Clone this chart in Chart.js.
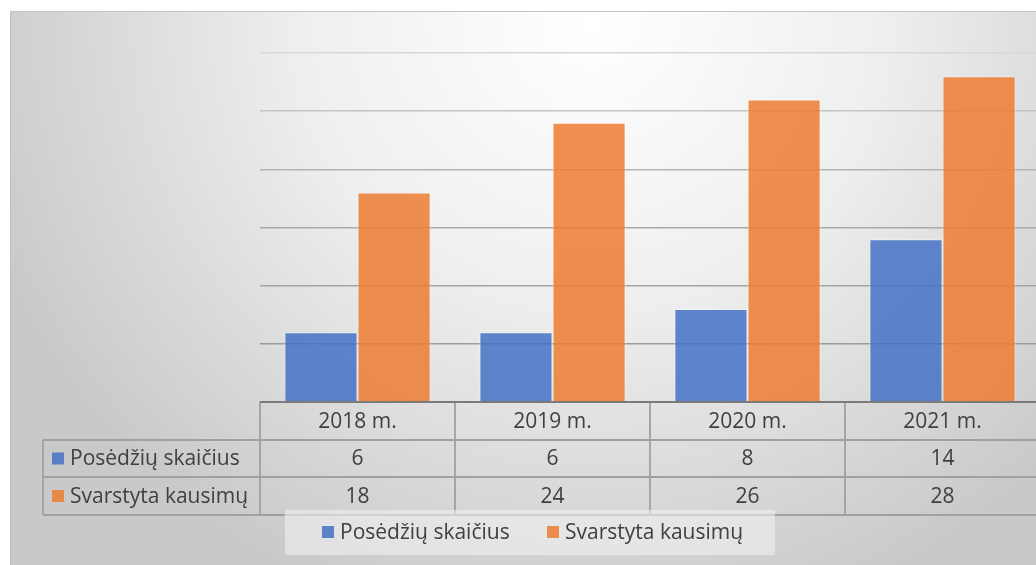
<!DOCTYPE html>
<html>
<head>
<meta charset="utf-8">
<script src="https://cdn.jsdelivr.net/npm/chart.js@4/dist/chart.umd.min.js"></script>
<style>
  html, body { margin: 0; padding: 0; width: 1036px; height: 565px; overflow: hidden; background: #fff; }
  #bg {
    position: absolute; left: 10px; top: 11px; width: 1026px; height: 554px;
    border-top: 1px solid #c4c4c4; border-left: 1px solid #c0c0c0;
    background: radial-gradient(ellipse 640px 620px at 580px 10px, #ffffff 0%, #efefef 45%, #c9c9c9 100%);
  }
  #grafikas { position: absolute; left: 0; top: 0; }
</style>
</head>
<body>
<div id="bg"></div>
<canvas id="grafikas" width="1046" height="565"></canvas>
<script>
const metai = ["2018 m.", "2019 m.", "2020 m.", "2021 m."];
const posedziai = [6, 6, 8, 14];
const klausimai = [18, 24, 26, 28];
const serijos = ["Posėdžių skaičius", "Svarstyta kausimų"];
const spalvos = ["#4472C4", "#ED7D31"];
const fontas = '"Open Sans", "Noto Sans", sans-serif';
const tekstoSpalva = "#404040";

// lentelė po grafiku ir legenda
const lentele = {
  id: "lentele",
  afterDraw(chart) {
    const ctx = chart.ctx;
    const ca = chart.chartArea;
    const x = chart.scales.x;
    const stulpelis = (ca.right - ca.left) / metai.length;
    const eil = [ca.bottom, ca.bottom + 38, ca.bottom + 75, ca.bottom + 113];
    const kaire = 43;
    const reiksmes = [posedziai, klausimai];

    ctx.save();
    ctx.strokeStyle = "#a0a0a0";
    ctx.lineWidth = 1.8;
    ctx.beginPath();
    // horizontalios
    ctx.moveTo(kaire, eil[1]); ctx.lineTo(ca.right + 10, eil[1]);
    ctx.moveTo(kaire, eil[2]); ctx.lineTo(ca.right + 10, eil[2]);
    ctx.moveTo(kaire, eil[3]); ctx.lineTo(ca.right + 10, eil[3]);
    // vertikalios
    ctx.moveTo(kaire, eil[1]); ctx.lineTo(kaire, eil[3]);
    for (let i = 0; i <= metai.length; i++) {
      const vx = ca.left + i * stulpelis;
      ctx.moveTo(vx, eil[0]); ctx.lineTo(vx, eil[3]);
    }
    ctx.stroke();

    // ašies linija
    ctx.strokeStyle = "#7a7a7a";
    ctx.lineWidth = 2;
    ctx.beginPath();
    ctx.moveTo(ca.left, ca.bottom); ctx.lineTo(ca.right + 10, ca.bottom);
    ctx.stroke();

    ctx.font = "21px " + fontas;
    ctx.fillStyle = tekstoSpalva;
    ctx.textBaseline = "middle";
    ctx.textAlign = "center";
    metai.forEach((m, i) => {
      const cx = x.getPixelForValue(i);
      ctx.fillText(m, cx, (eil[0] + eil[1]) / 2 + 1);
      reiksmes.forEach((r, j) => {
        ctx.fillText(String(r[i]), cx, (eil[j + 1] + eil[j + 2]) / 2 + 1);
      });
    });

    ctx.textAlign = "left";
    serijos.forEach((s, j) => {
      const cy = (eil[j + 1] + eil[j + 2]) / 2;
      ctx.fillStyle = spalvos[j];
      ctx.globalAlpha = 0.85;
      ctx.fillRect(52, cy - 6, 12, 12);
      ctx.globalAlpha = 1;
      ctx.fillStyle = tekstoSpalva;
      ctx.fillText(s, 70, cy + 1);
    });

    // legenda
    ctx.fillStyle = "rgba(240,240,240,0.6)";
    ctx.fillRect(285, 510, 490, 45);
    const legX = [322, 547];
    serijos.forEach((s, j) => {
      ctx.fillStyle = spalvos[j];
      ctx.globalAlpha = 0.85;
      ctx.fillRect(legX[j], 526, 12, 12);
      ctx.globalAlpha = 1;
      ctx.fillStyle = tekstoSpalva;
      ctx.fillText(s, legX[j] + 18, 533);
    });
    ctx.restore();
  }
};

const tinkloSpalvos = ["rgba(0,0,0,0)", "#9c9c9c", "#a4a4a4", "#aaaaaa", "#b4b4b4", "#c4c4c4", "#d8d8d8"];

new Chart(document.getElementById("grafikas"), {
  type: "bar",
  data: {
    labels: metai,
    datasets: [
      {
        label: serijos[0],
        data: posedziai,
        backgroundColor: "rgba(68,114,196,0.85)",
        borderColor: "rgba(255,255,255,0.45)",
        borderWidth: 1
      },
      {
        label: serijos[1],
        data: klausimai,
        backgroundColor: "rgba(237,125,49,0.85)",
        borderColor: "rgba(255,255,255,0.45)",
        borderWidth: 1
      }
    ]
  },
  options: {
    responsive: false,
    animation: false,
    layout: { padding: { left: 260, right: 6, top: 53, bottom: 163 } },
    datasets: { bar: { categoryPercentage: 0.75, barPercentage: 1 } },
    plugins: { legend: { display: false }, tooltip: { enabled: false } },
    scales: {
      x: { display: false },
      y: {
        min: 0,
        max: 30,
        ticks: { display: false, stepSize: 5 },
        border: { display: false },
        grid: {
          drawTicks: false,
          lineWidth: 1.5,
          color: c => tinkloSpalvos[c.index] || "#b0b0b0"
        }
      }
    }
  },
  plugins: [lentele]
});
</script>
</body>
</html>
